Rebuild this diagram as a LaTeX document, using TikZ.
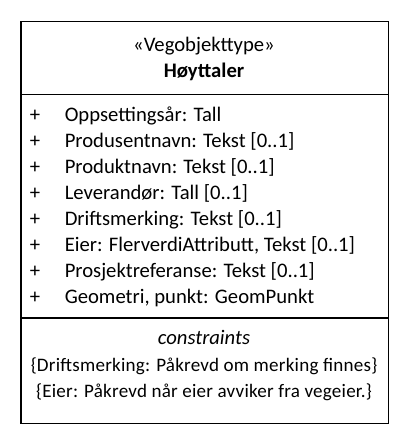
\documentclass[tikz,border=0pt]{standalone}
\usepackage{fontspec}
\setmainfont{Carlito}
\newfontfamily\cfont[LetterSpace=1.2]{Carlito}
\begin{document}
\begin{tikzpicture}[x=0.75pt,y=-0.75pt,
  txt/.style={inner sep=0pt,font=\fontsize{15.5pt}{19pt}\selectfont},
  attr/.style={txt,anchor=base west},
  plus/.style={txt,anchor=base},
  ctr/.style={txt,anchor=base},
  cons/.style={inner sep=0pt,anchor=base,font=\cfont\fontsize{14.3pt}{17pt}\selectfont},
  rule/.style={line width=0.8pt}]
\useasboundingbox (0,0) rectangle (408,444);
\node[draw,rule,minimum width=367*0.75pt,minimum height=402.5*0.75pt,inner sep=0pt,anchor=north west] (box) at (20.5,20.5) {};
\coordinate (d1l) at (20.5,94.5); \coordinate (d1r) at (387.5,94.5);
\coordinate (d2l) at (20.5,318); \coordinate (d2r) at (387.5,318);
\draw[rule] (d1l) -- (d1r);
\draw[rule] (d2l) -- (d2r);
\node[ctr] (st) at (204,51) {«Vegobjekttype»};
\node[ctr,font=\fontsize{15.5pt}{19pt}\selectfont\bfseries] (nm) at (204,77) {Høyttaler};
\foreach \i/\t in {0/{Oppsettingsår: Tall},1/{Produsentnavn: Tekst [0..1]},2/{Produktnavn: Tekst [0..1]},3/{Leverandør: Tall [0..1]},4/{Driftsmerking: Tekst [0..1]},5/{Eier: FlerverdiAttributt, Tekst [0..1]},6/{Prosjektreferanse: Tekst [0..1]},7/{Geometri, punkt: GeomPunkt}}{
  \node[plus] (p\i) at (35,121+26*\i) {+};
  \node[attr] (a\i) at (64.5,121+26*\i) {\t};
}
\node[ctr,font=\fontsize{15.5pt}{19pt}\selectfont\itshape] (cs) at (204,344) {constraints};
\node[cons] (c1) at (204,371) {\{Driftsmerking: Påkrevd om merking finnes\}};
\node[cons] (c2) at (204,397) {\{Eier: Påkrevd når eier avviker fra vegeier.\}};
\end{tikzpicture}
\end{document}
